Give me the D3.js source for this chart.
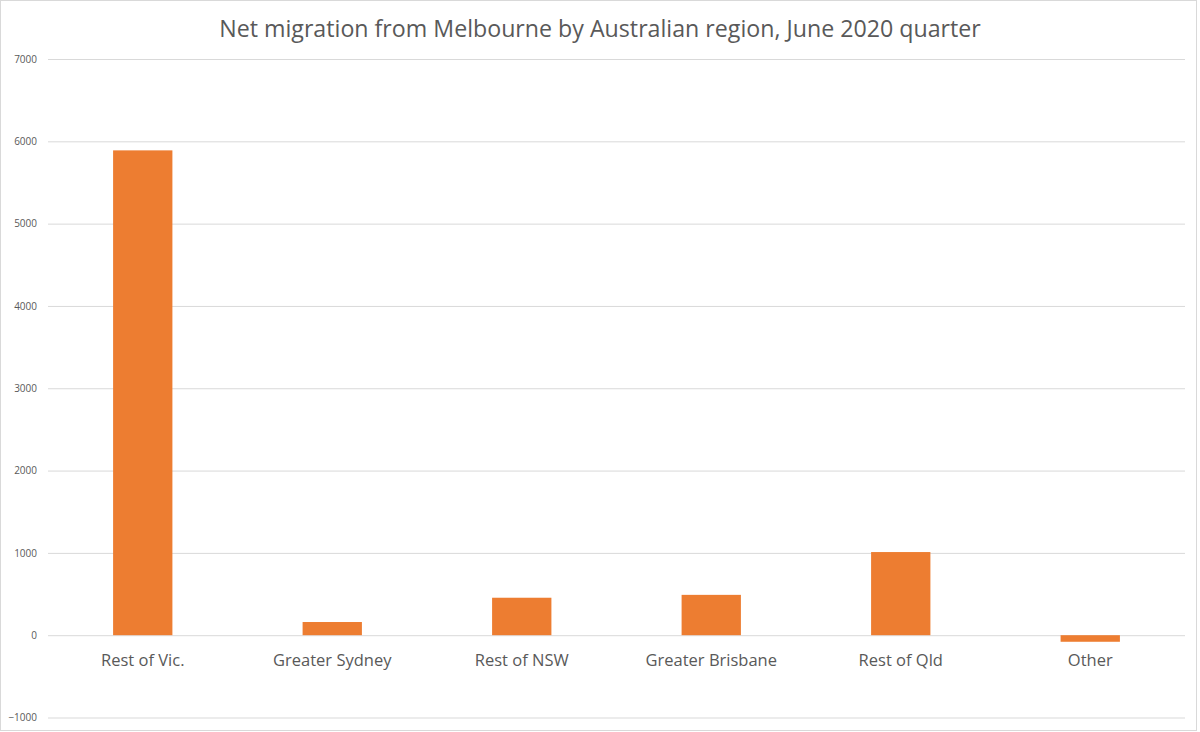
<!DOCTYPE html>
<html lang="en">
<head>
<meta charset="UTF-8">
<title>Net migration from Melbourne</title>
<script src="https://cdn.jsdelivr.net/npm/d3@7"></script>
<style>
  body { margin: 0; background: #fff; }
  text { font-family: "Open Sans", "Liberation Sans", sans-serif; fill: #595959; }
</style>
</head>
<body>
<script>
    var width = 1200;
    var height = 732;

    // data
    var regions = ["Rest of Vic.", "Greater Sydney", "Rest of NSW", "Greater Brisbane", "Rest of Qld", "Other"];
    var netMigration = [5890, 160, 455, 490, 1010, -80];
    var yTicks = [-1000, 0, 1000, 2000, 3000, 4000, 5000, 6000, 7000];

    var margin = {left: 48, right: 15, top: 59, bottom: 15};

    var svg = d3.select("body")
                .append("svg")
                .attr("width", width)
                .attr("height", height);

    // chart frame
    svg.append("rect")
        .attr("x", 0.5)
        .attr("y", 0.5)
        .attr("width", 1196)
        .attr("height", 730)
        .attr("fill", "#fff")
        .attr("stroke", "#d9d9d9");

    var x = d3.scaleBand()
                .domain(regions)
                .range([margin.left, width - margin.right])
                .paddingInner(0.687)
                .paddingOuter(0.3435);

    var y = d3.scaleLinear()
                .domain([-1000, 7000])
                .range([717.5, 59]);

    // gridlines + y labels
    var yAxis = d3.axisLeft(y)
                .tickValues(yTicks)
                .tickSize(-(width - margin.right - margin.left))
                .tickPadding(11)
                .tickFormat(d3.format("d"));

    var gy = svg.append("g")
        .attr("transform", "translate(" + margin.left + ",0)")
        .call(yAxis);
    gy.select(".domain").remove();
    gy.selectAll(".tick line").attr("stroke", "#d9d9d9");
    gy.selectAll(".tick text")
        .attr("font-size", 10)
        .attr("fill", "#595959");

    // bars
    svg.selectAll("rect.bar")
        .data(netMigration)
        .enter()
        .append("rect")
        .attr("class", "bar")
        .attr("x", function (d, i) { return x(regions[i]); })
        .attr("y", function (d) { return y(Math.max(0, d)); })
        .attr("width", x.bandwidth())
        .attr("height", function (d) { return Math.abs(y(d) - y(0)); })
        .attr("fill", "#ed7d31");

    // category labels sit just under the zero line
    svg.selectAll("text.cat")
        .data(regions)
        .enter()
        .append("text")
        .attr("class", "cat")
        .attr("x", function (d) { return x(d) + x.bandwidth() / 2; })
        .attr("y", y(0) + 31)
        .attr("text-anchor", "middle")
        .attr("font-size", 16.5)
        .text(function (d) { return d; });

    svg.append("text")
        .attr("x", 600)
        .attr("y", 37)
        .attr("text-anchor", "middle")
        .attr("font-size", 23.2)
        .text("Net migration from Melbourne by Australian region, June 2020 quarter");
</script>
</body>
</html>
